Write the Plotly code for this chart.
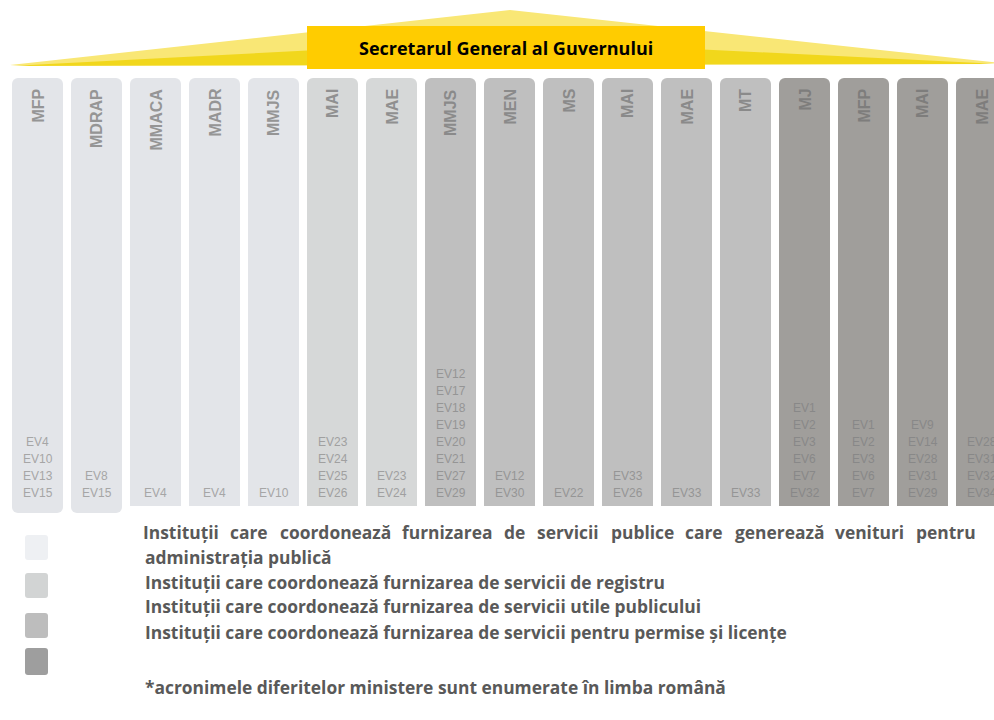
import plotly.graph_objects as go

# ---------------- data ----------------
title_text = "Secretarul General al Guvernului"
ministries = ["MFP", "MDRAP", "MMACA", "MADR", "MMJS", "MAI", "MAE", "MMJS", "MEN",
              "MS", "MAI", "MAE", "MT", "MJ", "MFP", "MAI", "MAE"]
group = [0, 0, 0, 0, 0, 1, 1, 2, 2, 2, 2, 2, 2, 3, 3, 3, 3]
ev_codes = [
    ["EV4", "EV10", "EV13", "EV15"],
    ["EV8", "EV15"],
    ["EV4"],
    ["EV4"],
    ["EV10"],
    ["EV23", "EV24", "EV25", "EV26"],
    ["EV23", "EV24"],
    ["EV12", "EV17", "EV18", "EV19", "EV20", "EV21", "EV27", "EV29"],
    ["EV12", "EV30"],
    ["EV22"],
    ["EV33", "EV26"],
    ["EV33"],
    ["EV33"],
    ["EV1", "EV2", "EV3", "EV6", "EV7", "EV32"],
    ["EV1", "EV2", "EV3", "EV6", "EV7"],
    ["EV9", "EV14", "EV28", "EV31", "EV29"],
    ["EV28", "EV31", "EV32", "EV34"],
]
legend_lines = [
    "Instituții care coordonează furnizarea de servicii publice care generează venituri pentru",
    "administrația publică",
    "Instituții care coordonează furnizarea de servicii de registru",
    "Instituții care coordonează furnizarea de servicii utile publicului",
    "Instituții care coordonează furnizarea de servicii pentru permise și licențe",
]
note_text = "*acronimele diferitelor ministere sunt enumerate în limba română"

# ---------------- styles ----------------
W, H = 994, 720
group_fill = ["#E3E5E9", "#D6D8D8", "#BFBFBF", "#A09E9B"]
group_label = ["#959595", "#909090", "#8A8A8A", "#7E7D7C"]
group_ev = ["#A6A6A6", "#A0A0A0", "#959595", "#888888"]
swatch_fill = ["#EEF0F3", "#D2D4D4", "#BDBDBD", "#9E9E9E"]
swatch_y = [(535, 560), (573, 598), (613, 638), (648, 675)]
legend_y = [532, 557, 582, 606, 632]
text_font = dict(family="Open Sans", size=17.4, color="#595959", weight="bold")
pitch, col_w, first_center = 59.0, 51.0, 37.5
col_top, col_bottom = 78, 513
x0 = -first_center / pitch
x1 = x0 + W / pitch

fig = go.Figure()

# yellow wedge (pixel axis x2)
fig.add_trace(go.Scatter(x=[10, 510, 1000, 10], y=[65, 10, 63, 65], xaxis="x2", yaxis="y",
                         mode="lines", fill="toself", fillcolor="#F9E775",
                         line=dict(width=0), hoverinfo="skip", showlegend=False))
fig.add_trace(go.Scatter(x=[10, 510, 1000, 10], y=[66, 40, 64, 66], xaxis="x2", yaxis="y",
                         mode="lines", fill="toself", fillcolor="#F1D71C",
                         line=dict(width=0), hoverinfo="skip", showlegend=False))

# columns
n = len(ministries)
fig.add_trace(go.Bar(
    x=list(range(n)),
    y=[-(col_bottom - col_top)] * n,
    base=[col_bottom] * n,
    width=[col_w / pitch] * n,
    marker=dict(color=[group_fill[g] for g in group], line=dict(width=0)),
    hoverinfo="skip", showlegend=False,
))

shapes = []
shapes.append(dict(type="rect", xref="x2", yref="y", x0=307, x1=705, y0=26, y1=69,
                   fillcolor="#FFCC00", line=dict(width=0), layer="above"))
shapes.append(dict(type="rect", xref="x2", yref="y", x0=124, x1=W + 5, y0=506, y1=H + 5,
                   fillcolor="white", line=dict(width=0), layer="above"))


def rounded(xa, xb, ya, yb, r=3):
    return (f"M{xa + r},{ya} L{xb - r},{ya} Q{xb},{ya} {xb},{ya + r} L{xb},{yb - r} "
            f"Q{xb},{yb} {xb - r},{yb} L{xa + r},{yb} Q{xa},{yb} {xa},{yb - r} "
            f"L{xa},{ya + r} Q{xa},{ya} {xa + r},{ya} Z")


for (ya, yb), c in zip(swatch_y, swatch_fill):
    shapes.append(dict(type="path", xref="x2", yref="y", path=rounded(25, 48, ya, yb),
                       fillcolor=c, line=dict(width=0), layer="above"))

ann = []
ann.append(dict(x=506, y=48, xref="x2", yref="y", text=title_text, showarrow=False,
                font=dict(family="Open Sans", size=18, color="#000000", weight="bold")))

for i, (name, g) in enumerate(zip(ministries, group)):
    ann.append(dict(x=i, y=87, xref="x", yref="y", text=name, textangle=-90,
                    xanchor="center", yanchor="top", showarrow=False,
                    font=dict(family="Liberation Sans", size=16, color=group_label[g],
                              weight="bold")))
    codes = ev_codes[i]
    m = len(codes)
    for k, code in enumerate(codes):
        ann.append(dict(x=i, y=493 - 17 * (m - 1 - k), xref="x", yref="y", text=code,
                        xanchor="center", yanchor="middle", showarrow=False,
                        font=dict(family="Liberation Sans", size=12, color=group_ev[g])))

# justified first legend line: words spread between left and right edge
char_w = {"a": .60, "b": .63, "c": .51, "d": .63, "e": .59, "f": .39, "g": .56, "h": .66,
          "i": .31, "j": .31, "k": .61, "l": .31, "m": .97, "n": .66, "o": .62, "p": .63,
          "r": .45, "s": .50, "t": .43, "u": .66, "v": .57, "z": .49, "ă": .60, "ț": .43,
          "I": .37}
left, right, natural_px = 143, 975, 750
words = legend_lines[0].split()
ew = [sum(char_w.get(ch, .6) for ch in w) for w in words]
scale = natural_px / (sum(ew) + 0.26 * (len(words) - 1))
wpx = [e * scale for e in ew]
gap = (right - left - sum(wpx)) / (len(words) - 1)
pos = left
for w, wp in zip(words, wpx):
    ann.append(dict(x=pos + wp / 2, y=legend_y[0], xref="x2", yref="y", text=w,
                    xanchor="center", yanchor="middle", showarrow=False, font=text_font))
    pos += wp + gap

for line, yy in zip(legend_lines[1:], legend_y[1:]):
    ann.append(dict(x=143, y=yy, xref="x2", yref="y", text=line, xanchor="left",
                    yanchor="middle", showarrow=False, font=text_font))
ann.append(dict(x=143, y=687, xref="x2", yref="y", text=note_text, xanchor="left",
                yanchor="middle", showarrow=False, font=text_font))

fig.update_layout(
    width=W, height=H,
    margin=dict(l=0, r=0, t=0, b=0),
    paper_bgcolor="white", plot_bgcolor="white",
    barcornerradius=6,
    xaxis=dict(range=[x0, x1], visible=False, fixedrange=True),
    xaxis2=dict(range=[0, W], overlaying="x", visible=False, fixedrange=True),
    yaxis=dict(range=[H, 0], visible=False, fixedrange=True),
    shapes=shapes, annotations=ann,
    hovermode=False, showlegend=False,
)

fig.write_html("out.html", config={"displayModeBar": False},
               post_script="document.body.style.margin='0';document.body.style.overflow='hidden';")
